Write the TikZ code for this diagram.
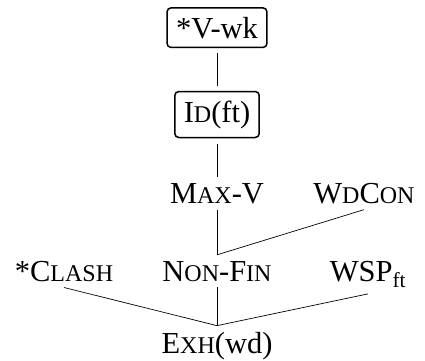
\documentclass[tikz,border=0pt]{standalone}
\usepackage{fontspec}
\setmainfont{Liberation Serif}
\newcommand{\smc}[1]{{\fontsize{24}{26}\selectfont #1}}
\tikzset{
	ranked/.style={
		inner sep=6pt,
		anchor=base,
		font=\fontsize{30.5}{33}\selectfont
	},
	boxed/.style={
		ranked,
		draw,
		rounded corners=4pt,
		line width=1.5pt,
		inner xsep=9pt,
		inner ysep=9pt,
		outer sep=6pt
	},
	dominates/.style={line width=0.7pt},
}
\begin{document}
\begin{tikzpicture}[x=1pt,y=-1pt]
\useasboundingbox (0,0) rectangle (425,360);

\node[boxed] (vwk) at (217,38) {*V-wk};
\node[boxed] (idft) at (217,122) {I\smc{D}(ft)};

	\node[ranked] (maxv) at (217,203) {M\smc{AX}-V};
	\node[ranked] (wdcon) at (364,203) {W\smc{D}C\smc{ON}};

		\node[ranked] (clash) at (64,281) {*C\smc{LASH}};
		\node[ranked] (nonfin) at (217,281) {N\smc{ON}-F\smc{IN}};
		\node[ranked] (wsp) at (368,281) {WSP\textsubscript{ft}};

			\node[ranked] (exh) at (217,353) {E\smc{XH}(wd)};

\draw[dominates] (vwk.south) -- (idft.north);
\draw[dominates] (idft.south) -- (maxv.north);
\draw[dominates] (maxv.south) -- (nonfin.north);
\draw[dominates] (wdcon.south) -- (nonfin.north);
\draw[dominates] (clash.south) -- (exh.north);
\draw[dominates] (nonfin.south) -- (exh.north);
\draw[dominates] (wsp.south) -- (exh.north);
\end{tikzpicture}
\end{document}
